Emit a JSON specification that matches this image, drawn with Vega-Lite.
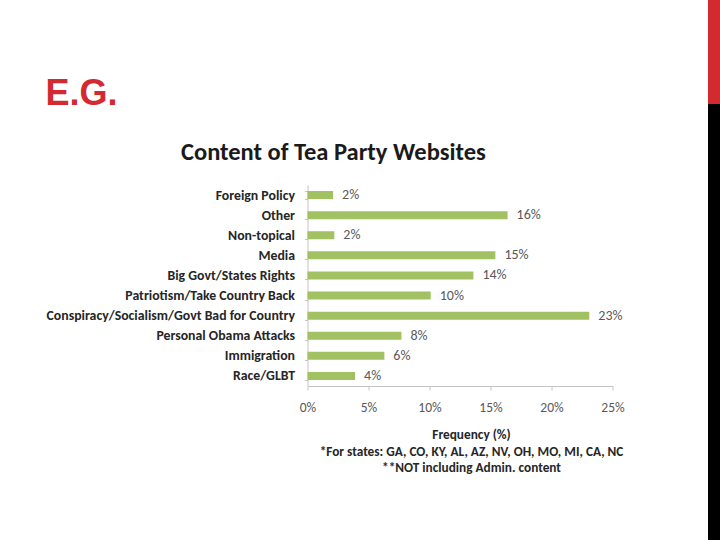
{
  "$schema": "https://vega.github.io/schema/vega-lite/v6.json",
  "background": "white",
  "autosize": {"type": "pad"},
  "padding": {"left": 45.5, "top": 0, "right": 0, "bottom": 0},
  "config": {
    "view": {"stroke": null},
    "font": "Lato"
  },
  "columns": 2,
  "align": "each",
  "bounds": "flush",
  "spacing": {"row": 0, "column": 95.5},
  "concat": [
    {
      "width": 305, "height": 104,
      "data": {"values": []},
      "mark": "point"
    },
    {
      "width": 12, "height": 104,
      "data": {"values": []},
      "mark": "point",
      "view": {"fill": "#d32a2f", "stroke": null}
    },
    {
      "width": 305, "height": 81,
      "title": {
        "text": "E.G.",
        "anchor": "start",
        "frame": "group",
        "orient": "top",
        "baseline": "alphabetic",
        "offset": -37,
        "dx": -262,
        "font": "Liberation Sans",
        "fontSize": 36,
        "fontWeight": "bold",
        "color": "#d32a2f"
      },
      "data": {"values": []},
      "mark": "point"
    },
    {
      "width": 12, "height": 81,
      "data": {"values": []},
      "mark": "point",
      "view": {"fill": "#000000", "stroke": null}
    },
    {
      "width": 305,
      "height": 201,
      "title": {
        "text": "Content of Tea Party Websites",
        "anchor": "start",
        "frame": "group",
        "baseline": "alphabetic",
        "offset": -6,
        "dx": -126.5,
        "font": "Carlito, Lato",
        "fontSize": 24.5,
        "fontWeight": "bold",
        "color": "#1a1a1a"
      },
      "data": {
        "values": [
          {"category": "Foreign Policy", "share": 0.021},
          {"category": "Other", "share": 0.164},
          {"category": "Non-topical", "share": 0.022},
          {"category": "Media", "share": 0.154},
          {"category": "Big Govt/States Rights", "share": 0.136},
          {"category": "Patriotism/Take Country Back", "share": 0.101},
          {"category": "Conspiracy/Socialism/Govt Bad for Country", "share": 0.231},
          {"category": "Personal Obama Attacks", "share": 0.077},
          {"category": "Immigration", "share": 0.063},
          {"category": "Race/GLBT", "share": 0.039}
        ]
      },
      "encoding": {
        "y": {
          "field": "category",
          "type": "nominal",
          "sort": null,
          "scale": {"paddingInner": 0.6, "paddingOuter": 0.3},
          "axis": {
            "title": null,
            "tickBand": "extent",
            "domainColor": "#c4c4c4",
            "tickColor": "#c4c4c4",
            "tickSize": 3,
            "labelPadding": 10,
            "labelFont": "Carlito, Lato",
            "labelFontWeight": "bold",
            "labelFontSize": 13.8,
            "labelColor": "#262626",
            "labelLimit": 0
          }
        },
        "x": {
          "field": "share",
          "type": "quantitative",
          "scale": {"domain": [0, 0.25], "nice": false},
          "axis": {
            "values": [0, 0.05, 0.1, 0.15, 0.2, 0.25],
            "format": ".0%",
            "grid": false,
            "labelFlush": false,
            "domainColor": "#c4c4c4",
            "tickColor": "#c4c4c4",
            "tickSize": 4,
            "labelPadding": 10,
            "labelFont": "Carlito, Lato",
            "labelFontSize": 13.5,
            "labelColor": "#595959",
            "title": [
              "Frequency (%)",
              "*For states: GA, CO, KY, AL, AZ, NV, OH, MO, MI, CA, NC",
              "**NOT including Admin. content"
            ],
            "titleFont": "Carlito, Lato",
            "titleFontWeight": "bold",
            "titleFontSize": 13.3,
            "titleColor": "#262626",
            "titleLineHeight": 16.5,
            "titleX": 163.5,
            "titleAlign": "center",
            "titlePadding": 14
          }
        }
      },
      "layer": [
        {"mark": {"type": "bar", "color": "#a2c163"}},
        {
          "mark": {
            "type": "text",
            "align": "left",
            "baseline": "middle",
            "dx": 9,
            "font": "Carlito, Lato",
            "fontSize": 14,
            "color": "#595959"
          },
          "encoding": {"text": {"field": "share", "type": "quantitative", "format": ".0%"}}
        }
      ]
    },
    {
      "width": 12, "height": 355,
      "data": {"values": []},
      "mark": "point",
      "view": {"fill": "#000000", "stroke": null}
    }
  ]
}
